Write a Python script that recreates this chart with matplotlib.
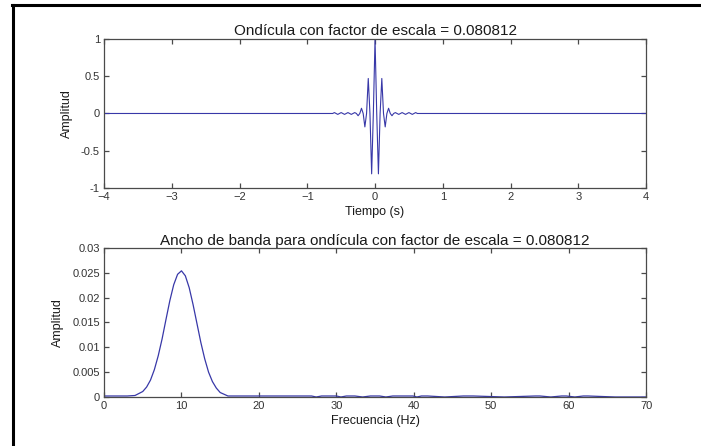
import matplotlib
matplotlib.use("Agg")
import matplotlib.pyplot as plt
from matplotlib.lines import Line2D
from matplotlib.ticker import FormatStrFormatter

plt.rcParams['font.family'] = ['Liberation Sans', 'DejaVu Sans']

escala = 0.080812

# ondícula: extremos y cruces por cero de la oscilación (s, amplitud)
tiempo = [-4.0, -0.65, -0.625, -0.60, -0.575, -0.55, -0.525, -0.50, -0.475,
          -0.45, -0.425, -0.40, -0.375, -0.35, -0.325, -0.30, -0.275, -0.25,
          -0.225, -0.20, -0.175, -0.15, -0.125, -0.10, -0.075, -0.05, -0.025,
          0.0, 0.025, 0.05, 0.075, 0.10, 0.125, 0.15, 0.175, 0.20, 0.225,
          0.25, 0.275, 0.30, 0.325, 0.35, 0.375, 0.40, 0.425, 0.45, 0.475,
          0.50, 0.525, 0.55, 0.575, 0.60, 0.625, 0.65, 4.0]
amp_ondicula = [0.0, 0.0, 0.0, 0.012, 0.0, -0.012, 0.0, 0.012, 0.0,
                -0.012, 0.0, 0.012, 0.0, -0.012, 0.0, 0.012, 0.0, -0.03,
                0.0, 0.07, 0.0, -0.18, 0.0, 0.47, 0.0, -0.81, 0.0,
                1.0, 0.0, -0.81, 0.0, 0.47, 0.0, -0.18, 0.0, 0.07, 0.0,
                -0.03, 0.0, 0.012, 0.0, -0.012, 0.0, 0.012, 0.0, -0.012, 0.0,
                0.012, 0.0, -0.012, 0.0, 0.012, 0.0, 0.0, 0.0]

# espectro (Hz, amplitud)
frecuencia = [0, 3, 4, 5, 5.5, 6, 6.5, 7, 7.5, 8, 8.5, 9, 9.5, 10, 10.5, 11,
              11.5, 12, 12.5, 13, 13.5, 14, 14.5, 15, 16, 17, 26.8, 27.4,
              28.1, 30.0, 30.6, 31.3, 32.4, 33.4, 34.4, 35.6, 36.4, 37.3,
              39.9, 40.4, 41.0, 41.8, 44.0, 46.4, 47.7, 51.7, 55.7, 56.3,
              57.7, 59.1, 59.7, 60.8, 61.9, 62.5, 66.0, 70.0]
amp_espectro = [0.0002, 0.0002, 0.0003, 0.0011, 0.0020, 0.0034, 0.0055, 0.0083,
                0.0117, 0.0156, 0.0194, 0.0226, 0.0247, 0.0254, 0.0244, 0.0220,
                0.0186, 0.0148, 0.0110, 0.0077, 0.0050, 0.0031, 0.0018, 0.0009,
                0.0002, 0.0002, 0.0002, 0.0,
                0.0002, 0.0002, 0.0, 0.0002, 0.0002, 0.0, 0.0002, 0.0002, 0.0, 0.0002,
                0.0002, 0.0, 0.0002, 0.0002, 0.0, 0.0002, 0.0002, 0.0, 0.0002, 0.0002,
                0.0, 0.0002, 0.0002, 0.0, 0.0002, 0.0002, 0.0, 0.0]

x_ticks_t = [-4, -3, -2, -1, 0, 1, 2, 3, 4]
y_ticks_t = [-1, -0.5, 0, 0.5, 1]
x_ticks_f = [0, 10, 20, 30, 40, 50, 60, 70]
y_ticks_f = [0, 0.005, 0.01, 0.015, 0.02, 0.025, 0.03]

color_linea = '#3838a8'
color_ejes = '#4a4a4a'
color_texto = '#333333'

fig = plt.figure(figsize=(7.01, 4.46), dpi=100)
fig.patch.set_facecolor('white')

ax1 = fig.add_axes([0.1484, 0.5785, 0.7732, 0.3341])
ax2 = fig.add_axes([0.1484, 0.1099, 0.7732, 0.3341])


def estilo(ax):
    for s in ax.spines.values():
        s.set_color(color_ejes)
        s.set_linewidth(0.9)
    ax.tick_params(direction='in', length=3.5, width=0.9, color=color_ejes,
                   top=True, right=True, labelsize=8, labelcolor=color_texto,
                   pad=3)


ax1.plot(tiempo, amp_ondicula, color=color_linea, lw=0.8)
ax1.set_xlim(-4, 4)
ax1.set_ylim(-1, 1)
ax1.set_xticks(x_ticks_t)
ax1.set_yticks(y_ticks_t)
ax1.yaxis.set_major_formatter(FormatStrFormatter('%g'))
ax1.set_title('Ondícula con factor de escala = %g' % escala, fontsize=11,
              color='#1a1a1a', pad=3)
ax1.set_xlabel('Tiempo (s)', fontsize=9, color='#1a1a1a', labelpad=2.5)
ax1.set_ylabel('Amplitud', fontsize=9, color='#1a1a1a', labelpad=6)
estilo(ax1)

ax2.plot(frecuencia, amp_espectro, color=color_linea, lw=0.9)
ax2.set_xlim(0, 70)
ax2.set_ylim(0, 0.03)
ax2.set_xticks(x_ticks_f)
ax2.set_yticks(y_ticks_f)
ax2.yaxis.set_major_formatter(FormatStrFormatter('%g'))
ax2.set_title('Ancho de banda para ondícula con factor de escala = %g' % escala,
              fontsize=11, color='#1a1a1a', pad=2)
ax2.set_xlabel('Frecuencia (Hz)', fontsize=9, color='#1a1a1a', labelpad=2.5)
ax2.set_ylabel('Amplitud', fontsize=9, color='#1a1a1a', labelpad=6)
estilo(ax2)

# marco negro a la izquierda y arriba
fig.add_artist(Line2D([12.5 / 701, 12.5 / 701], [0, 1 - 4.5 / 446],
                      transform=fig.transFigure, color='black', lw=2.2))
fig.add_artist(Line2D([11.5 / 701, 1], [1 - 5.2 / 446, 1 - 5.2 / 446],
                      transform=fig.transFigure, color='black', lw=2.2))

fig.savefig('out.png', dpi=100)
